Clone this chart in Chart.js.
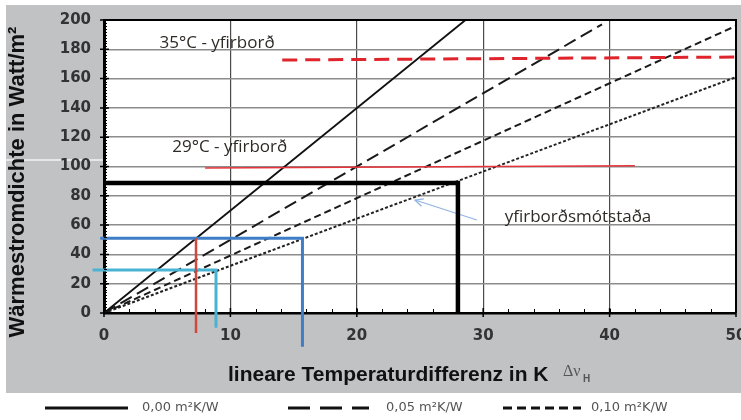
<!DOCTYPE html>
<html>
<head>
<meta charset="utf-8">
<script src="https://cdn.jsdelivr.net/npm/chart.js@4.4.1/dist/chart.umd.min.js"></script>
<style>
  html, body { margin: 0; padding: 0; background: #fff; }
  #wrap { width: 741px; height: 420px; }
</style>
</head>
<body>
<div id="wrap"><canvas id="chart" width="741" height="420"></canvas></div>
<script>
// heat flux lines for the floor resistances (W/m2 over K)
var r000X = [0, 28.6], r000Y = [0, 200];
var r005X = [0, 39.4], r005Y = [0, 197];
var r010X = [0, 50], r010Y = [0, 196];
var r015X = [0, 50], r015Y = [0, 161];
// surface temperature limits
var surf35X = [14.1, 50], surf35Y = [172.7, 174.7];
var surf29X = [8, 42], surf29Y = [99, 100.5];
// reading lines
var limitX = [0, 28, 28], limitY = [88.7, 88.7, 0];
var blueX = [-0.3, 15.7, 15.7], blueY = [51, 51, -23];
var cyanX = [-0.9, 8.86, 8.86], cyanY = [29.4, 29.4, -10];
var redX = [7.28, 7.28], redY = [51, -13.7];
var arrowX = [29.5, 24.6], arrowY = [63.5, 77.1];

var xTicks = [0, 10, 20, 30, 40, 50];
var yTicks = [0, 20, 40, 60, 80, 100, 120, 140, 160, 180, 200];
var legendLabels = ['0,00 m²K/W', '0,05 m²K/W', '0,10 m²K/W'];
var notes = [
    { text: '35°C - yfirborð', x: 4.4, y: 184 },
    { text: '29°C - yfirborð', x: 5.4, y: 113 },
    { text: 'yfirborðsmótstaða', x: 31.7, y: 65.5 }
];

function pts(xs, ys) {
    return xs.map(function(x, i) { return { x: x, y: ys[i] }; });
}

function line(label, xs, ys, color, width, dash) {
    return {
        label: label,
        data: pts(xs, ys),
        showLine: true,
        borderColor: color,
        borderWidth: width,
        borderDash: dash,
        borderCapStyle: 'butt',
        borderJoinStyle: 'miter',
        pointRadius: 0,
        fill: false,
        clip: false
    };
}

var decor = {
    id: 'decor',
    beforeDraw: function(chart) {
        var c = chart.ctx, a = chart.chartArea;
        c.save();
        c.fillStyle = '#fff';
        c.fillRect(0, 0, chart.width, chart.height);
        c.fillStyle = '#c1c2c4';
        c.fillRect(6, 5, chart.width - 6, 388);
        c.strokeStyle = 'rgba(255,255,255,0.8)';
        c.lineWidth = 1.5;
        c.beginPath();
        c.moveTo(6, 160);
        c.lineTo(a.left, 160);
        c.stroke();
        c.fillStyle = '#fff';
        c.fillRect(a.left, a.top, a.right - a.left, a.bottom - a.top);
        c.restore();
    },
    afterDatasetsDraw: function(chart) {
        var c = chart.ctx, a = chart.chartArea;
        var xs = chart.scales.x, ys = chart.scales.y;
        c.save();
        c.strokeStyle = '#000';
        // top and right frame
        c.lineWidth = 2;
        c.beginPath();
        c.moveTo(a.left, a.top);
        c.lineTo(a.right, a.top);
        c.lineTo(a.right, a.bottom);
        c.stroke();
        // minor ticks
        c.lineWidth = 1;
        c.beginPath();
        for (var v = 2; v < 200; v += 2) {
            var py = Math.round(ys.getPixelForValue(v)) + 0.5;
            c.moveTo(a.left, py);
            c.lineTo(a.left + 3, py);
        }
        for (var u = 2; u < 50; u += 2) {
            var px = Math.round(xs.getPixelForValue(u)) + 0.5;
            c.moveTo(px, a.bottom - 4);
            c.lineTo(px, a.bottom);
        }
        c.stroke();
        // major ticks
        c.lineWidth = 1.5;
        c.beginPath();
        yTicks.forEach(function(t) {
            var py = ys.getPixelForValue(t);
            c.moveTo(a.left - 4, py);
            c.lineTo(a.left + 5, py);
        });
        xTicks.forEach(function(t) {
            var px = xs.getPixelForValue(t);
            c.moveTo(px, a.bottom - 5);
            c.lineTo(px, a.bottom + 4);
        });
        c.stroke();
        // arrow head
        var meta = chart.getDatasetMeta(4);
        var p0 = meta.data[0], p1 = meta.data[1];
        var ang = Math.atan2(p1.y - p0.y, p1.x - p0.x);
        c.strokeStyle = '#8fb5e2';
        c.lineWidth = 1.2;
        c.beginPath();
        c.moveTo(p1.x - 9 * Math.cos(ang - 0.45), p1.y - 9 * Math.sin(ang - 0.45));
        c.lineTo(p1.x, p1.y);
        c.lineTo(p1.x - 9 * Math.cos(ang + 0.45), p1.y - 9 * Math.sin(ang + 0.45));
        c.stroke();
        // notes
        c.fillStyle = '#2e2a26';
        c.font = '17px "Open Sans", sans-serif';
        c.textBaseline = 'middle';
        c.textAlign = 'left';
        notes.forEach(function(n) {
            c.fillText(n.text, xs.getPixelForValue(n.x), ys.getPixelForValue(n.y));
        });
        c.restore();
    },
    afterDraw: function(chart) {
        var c = chart.ctx;
        c.save();
        // axis titles
        c.fillStyle = '#111';
        c.font = 'bold 21px "Liberation Sans", Arial, sans-serif';
        c.textBaseline = 'middle';
        c.textAlign = 'left';
        c.fillText('lineare Temperaturdifferenz in K', 228, 375);
        c.fillStyle = '#555';
        c.font = '16px "Liberation Serif", serif';
        c.fillText('Δν', 563, 372);
        c.font = 'bold 10px "Liberation Sans", sans-serif';
        c.fillText('H', 583, 379);
        c.save();
        c.translate(18, 182);
        c.rotate(-Math.PI / 2);
        c.textAlign = 'center';
        c.fillStyle = '#111';
        c.font = 'bold 22px "Liberation Sans", Arial, sans-serif';
        c.fillText('Wärmestromdichte in Watt/m²', 0, 0);
        c.restore();
        // legend
        var items = [
            { x1: 45, x2: 128, dash: [], tx: 142 },
            { x1: 288, x2: 369, dash: [22, 10], tx: 386 },
            { x1: 503, x2: 581, dash: [9, 5], tx: 591 }
        ];
        c.strokeStyle = '#111';
        c.lineWidth = 3;
        c.fillStyle = '#555';
        c.font = '13px "DejaVu Sans", sans-serif';
        items.forEach(function(it, i) {
            c.setLineDash(it.dash);
            c.beginPath();
            c.moveTo(it.x1, 408);
            c.lineTo(it.x2, 408);
            c.stroke();
            c.fillText(legendLabels[i], it.tx, 408);
        });
        c.restore();
    }
};

var tickFont = { family: 'DejaVu Sans', size: 15, weight: 'bold' };

new Chart(document.getElementById('chart'), {
    type: 'scatter',
    data: {
        datasets: [
            line('red', redX, redY, '#d2463c', 2.5, []),
            line('blue', blueX, blueY, '#3f7dc6', 3, []),
            line('cyan', cyanX, cyanY, '#4ab3d3', 3, []),
            line('limit', limitX, limitY, '#000', 4.5, []),
            line('arrow', arrowX, arrowY, '#8fb5e2', 1.2, []),
            line('35°C', surf35X, surf35Y, '#e0242c', 3, [15, 8]),
            line('29°C', surf29X, surf29Y, '#e8333a', 1.6, []),
            line(legendLabels[0], r000X, r000Y, '#111', 1.8, []),
            line(legendLabels[1], r005X, r005Y, '#1a1a1a', 2, [13, 6]),
            line(legendLabels[2], r010X, r010Y, '#1a1a1a', 2, [7, 4]),
            line('0,15', r015X, r015Y, '#222', 2, [3, 2])
        ]
    },
    options: {
        responsive: false,
        animation: false,
        events: [],
        layout: { padding: { top: 20, right: 5, left: 0, bottom: 0 } },
        plugins: { legend: { display: false }, tooltip: { enabled: false } },
        scales: {
            x: {
                type: 'linear',
                min: 0,
                max: 50,
                afterBuildTicks: function(s) { s.ticks = xTicks.map(function(v) { return { value: v }; }); },
                afterFit: function(s) { s.height = 107; s.paddingLeft = 0; s.paddingRight = 0; },
                ticks: { font: tickFont, color: '#333', padding: 14, maxRotation: 0, autoSkip: false },
                grid: { color: '#4a4a4a', lineWidth: 1.2, drawTicks: false },
                border: { color: '#000', width: 2.5 }
            },
            y: {
                type: 'linear',
                min: 0,
                max: 200,
                afterBuildTicks: function(s) { s.ticks = yTicks.map(function(v) { return { value: v }; }); },
                afterFit: function(s) { s.width = 104; s.paddingTop = 0; s.paddingBottom = 0; },
                ticks: { font: tickFont, color: '#333', padding: 13, autoSkip: false },
                grid: { color: '#8c8c8c', lineWidth: 1.5, drawTicks: false },
                border: { color: '#000', width: 3 }
            }
        }
    },
    plugins: [decor]
});
</script>
</body>
</html>
